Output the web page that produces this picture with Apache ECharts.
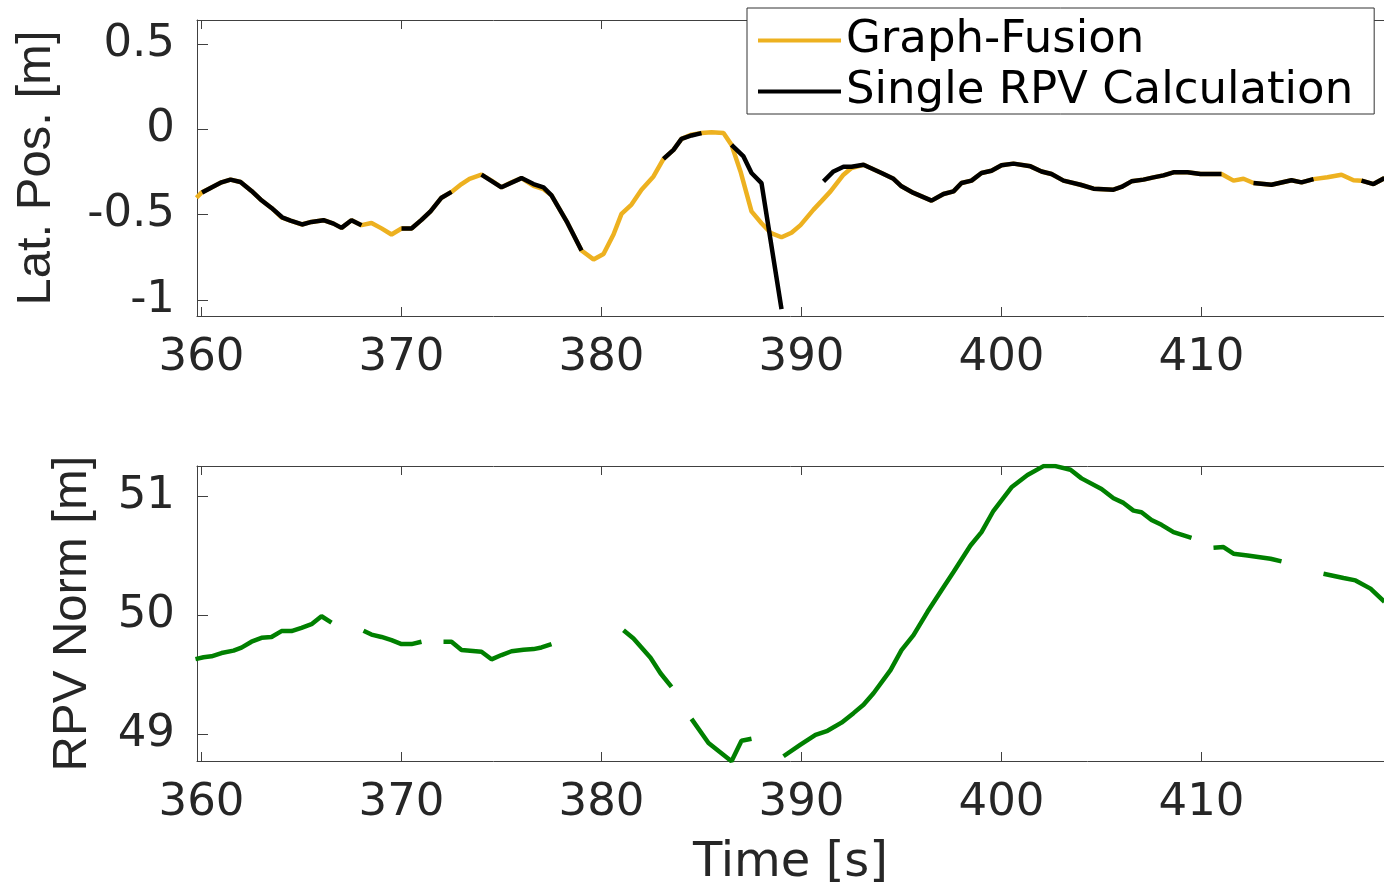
<!DOCTYPE html>
<html>
<head>
<meta charset="utf-8">
<script src="https://cdn.jsdelivr.net/npm/echarts@6/dist/echarts.min.js"></script>
<style>
html,body{margin:0;padding:0;background:#fff;}
#chart{width:1384px;height:889px;}
</style>
</head>
<body>
<div id="chart"></div>
<script>
// ---- Data ----
const xTicks = [360, 370, 380, 390, 400, 410];
const latTicks = [-1, -0.5, 0, 0.5];
const normTicks = [49, 50, 51];

// Graph-Fusion lateral position
const fusionT = [359.75,360.0,360.5,361.0,361.45,361.95,362.5,362.95,363.5,364.0,364.45,365.0,365.5,366.1,366.6,367.0,367.5,368.0,368.5,369.0,369.5,370.0,370.5,371.0,371.45,372.0,372.5,373.0,373.4,374.0,374.5,375.0,375.5,376.0,376.6,377.1,377.5,378.3,379.0,379.6,380.1,380.6,381.0,381.5,382.0,382.6,383.1,383.6,384.0,384.5,385.0,385.5,386.1,386.5,386.95,387.5,388.0,388.45,389.0,389.5,389.95,390.6,391.0,391.45,392.1,392.5,393.1,394.0,394.6,395.0,395.6,396.5,397.1,397.6,398.0,398.5,399.0,399.5,400.0,400.6,401.45,402.0,402.5,403.1,403.95,404.6,405.6,406.0,406.5,407.1,407.6,408.1,408.6,409.3,409.95,411.0,411.6,412.1,412.6,413.5,414.5,415.0,415.6,416.3,417.0,417.6,418.0,418.6,419.15];
const fusionV = [-0.40,-0.37,-0.34,-0.31,-0.294,-0.308,-0.36,-0.41,-0.46,-0.515,-0.534,-0.557,-0.542,-0.532,-0.552,-0.577,-0.532,-0.561,-0.548,-0.58,-0.616,-0.581,-0.581,-0.53,-0.48,-0.40,-0.366,-0.32,-0.289,-0.265,-0.30,-0.339,-0.31,-0.285,-0.33,-0.35,-0.386,-0.548,-0.71,-0.762,-0.73,-0.616,-0.495,-0.44,-0.353,-0.275,-0.172,-0.119,-0.055,-0.03,-0.021,-0.016,-0.021,-0.09,-0.246,-0.48,-0.55,-0.606,-0.632,-0.606,-0.561,-0.47,-0.42,-0.363,-0.265,-0.226,-0.207,-0.255,-0.289,-0.333,-0.372,-0.417,-0.378,-0.363,-0.314,-0.3,-0.255,-0.242,-0.21,-0.2,-0.216,-0.246,-0.261,-0.3,-0.324,-0.347,-0.353,-0.337,-0.304,-0.294,-0.281,-0.269,-0.251,-0.251,-0.261,-0.261,-0.3,-0.289,-0.314,-0.324,-0.298,-0.31,-0.291,-0.28,-0.265,-0.298,-0.3,-0.32,-0.285];

// Single RPV Calculation lateral position (null = no value)
const singleT = [360.03,360.5,361.0,361.45,361.95,362.5,362.95,363.5,364.03,364.45,365.03,365.5,366.1,366.6,367.0,367.5,368.0,369.0,370.0,370.5,371.0,371.45,372.0,372.5,373.2,374.0,375.0,376.0,376.6,377.1,377.5,378.3,379.0,381.0,383.1,383.6,384.0,384.5,385.0,385.8,386.5,387.1,387.5,388.0,389.0,390.0,391.1,391.6,392.1,392.5,393.1,394.0,394.6,395.0,395.6,396.5,397.1,397.6,398.0,398.5,399.0,399.5,400.0,400.6,401.45,402.0,402.5,403.1,403.95,404.6,405.6,406.0,406.5,407.1,407.6,408.1,408.6,409.3,409.95,411.0,411.8,412.6,413.5,414.5,415.0,415.6,416.8,418.0,418.6,419.15];
const singleV = [-0.37,-0.34,-0.31,-0.294,-0.308,-0.36,-0.41,-0.46,-0.515,-0.534,-0.557,-0.542,-0.532,-0.552,-0.577,-0.532,-0.561,null,-0.581,-0.581,-0.53,-0.48,-0.40,-0.366,null,-0.265,-0.339,-0.285,-0.32,-0.339,-0.386,-0.548,-0.71,null,-0.172,-0.119,-0.055,-0.035,-0.021,null,-0.09,-0.158,-0.255,-0.314,-1.054,null,-0.304,-0.246,-0.218,-0.218,-0.207,-0.255,-0.289,-0.333,-0.372,-0.417,-0.378,-0.363,-0.314,-0.3,-0.255,-0.242,-0.21,-0.2,-0.216,-0.246,-0.261,-0.3,-0.324,-0.347,-0.353,-0.337,-0.304,-0.294,-0.281,-0.269,-0.251,-0.251,-0.261,-0.261,null,-0.314,-0.324,-0.298,-0.31,-0.291,null,-0.3,-0.32,-0.285];

// RPV norm (null = no value)
const normT = [359.7,360.1,360.5,361.0,361.6,362.0,362.5,363.0,363.5,364.0,364.5,365.0,365.5,366.0,366.5,367.3,368.1,368.5,369.0,369.5,370.0,370.5,371.0,371.5,372.1,372.5,373.0,374.0,374.5,375.0,375.5,376.1,376.6,377.0,377.5,379.0,381.1,381.6,382.45,382.95,383.5,384.0,384.5,385.35,386.5,387.0,387.5,388.3,389.1,389.95,390.7,391.3,392.0,392.6,393.1,393.6,394.45,395.0,395.6,396.3,397.0,397.6,398.45,399.0,399.6,400.5,401.3,402.1,402.7,403.45,404.0,405.0,405.6,406.1,406.6,407.0,407.5,408.0,408.6,409.5,410.0,410.6,411.1,411.6,412.3,413.45,414.0,415.0,416.1,417.1,417.7,418.45,419.15];
const normV = [49.634,49.649,49.657,49.685,49.705,49.73,49.78,49.813,49.82,49.869,49.869,49.897,49.927,49.994,49.941,null,49.872,49.84,49.82,49.793,49.76,49.76,49.78,null,49.78,49.78,49.71,49.696,49.632,49.668,49.70,49.713,49.718,49.732,49.76,null,49.877,49.807,49.646,49.515,49.40,null,49.132,48.929,48.775,48.948,48.965,null,48.818,48.915,48.998,49.032,49.1,49.18,49.25,49.347,49.542,49.71,49.835,50.031,50.212,50.366,50.588,50.7,50.88,51.077,51.18,51.255,51.255,51.224,51.152,51.063,50.985,50.946,50.881,50.868,50.803,50.762,50.70,50.653,null,50.569,50.575,50.519,50.505,50.477,50.455,null,50.351,50.315,50.295,50.226,50.115];

const pairs = (t, v) => t.map((x, i) => [x, v[i] === null ? null : v[i]]);

// ---- Styling ----
const AX = '#404040';
const TXT = '#262626';
const FONT = 'DejaVu Sans';
const XMIN = 359.775, XMAX = 419.125;

function xAxisDef(gridIndex, position, labels) {
  return {
    type: 'value', gridIndex, position, min: XMIN, max: XMAX,
    axisLine: { show: true, onZero: false, lineStyle: { color: AX, width: 1 } },
    axisTick: { show: true, inside: true, length: 9, customValues: xTicks, lineStyle: { color: AX, width: 1 } },
    axisLabel: { show: labels, customValues: xTicks, fontSize: 45, fontFamily: FONT, color: TXT, margin: 20 },
    splitLine: { show: false }
  };
}

const chart = echarts.init(document.getElementById('chart'), null, { renderer: 'canvas' });
chart.setOption({
  animation: false,
  backgroundColor: '#ffffff',
  textStyle: { fontFamily: FONT },
  grid: [
    { left: 197, top: 20, width: 1187, height: 296 },
    { left: 197, top: 466, width: 1187, height: 297 }
  ],
  xAxis: [
    xAxisDef(0, 'bottom', true),
    xAxisDef(0, 'top', false),
    Object.assign(xAxisDef(1, 'bottom', true), {
      name: 'Time [s]', nameLocation: 'middle', nameGap: 79,
      nameTextStyle: { fontSize: 48, fontFamily: FONT, color: TXT }
    }),
    xAxisDef(1, 'top', false)
  ],
  yAxis: [
    {
      type: 'value', gridIndex: 0, position: 'left', min: -1.094, max: 0.6425,
      name: 'Lat. Pos. [m]', nameLocation: 'middle', nameGap: 136,
      nameTextStyle: { fontSize: 49, fontFamily: 'Liberation Sans', color: TXT },
      axisLine: { show: true, onZero: false, lineStyle: { color: AX, width: 1 } },
      axisTick: { show: true, inside: true, length: 11, customValues: latTicks, lineStyle: { color: AX, width: 1 } },
      axisLabel: { customValues: latTicks, fontSize: 45, fontFamily: FONT, color: TXT, margin: 22 },
      splitLine: { show: false }
    },
    {
      type: 'value', gridIndex: 1, position: 'left', min: 48.778, max: 51.256,
      name: 'RPV Norm [m]', nameLocation: 'middle', nameGap: 100,
      nameTextStyle: { fontSize: 49, fontFamily: 'Liberation Sans', color: TXT },
      axisLine: { show: true, onZero: false, lineStyle: { color: AX, width: 1 } },
      axisTick: { show: true, inside: true, length: 11, customValues: normTicks, lineStyle: { color: AX, width: 1 } },
      axisLabel: { customValues: normTicks, fontSize: 45, fontFamily: FONT, color: TXT, margin: 22 },
      splitLine: { show: false }
    }
  ],
  legend: {
    orient: 'vertical', left: 747, top: 8,
    padding: [10, 21, 0, 11],
    itemWidth: 83, itemHeight: 4, itemGap: 6, icon: 'rect',
    textStyle: { fontSize: 45, lineHeight: 42, fontFamily: FONT, color: '#000' },
    borderColor: '#333', borderWidth: 1, backgroundColor: '#fff',
    data: ['Graph-Fusion', 'Single RPV Calculation']
  },
  series: [
    {
      name: 'Graph-Fusion', type: 'line', xAxisIndex: 0, yAxisIndex: 0,
      data: pairs(fusionT, fusionV), showSymbol: false, symbol: 'none',
      color: '#EDB120', lineStyle: { width: 4.5, color: '#EDB120' }, clip: true
    },
    {
      name: 'Single RPV Calculation', type: 'line', xAxisIndex: 0, yAxisIndex: 0,
      data: pairs(singleT, singleV), showSymbol: false, symbol: 'none', connectNulls: false,
      color: '#000000', lineStyle: { width: 4.5, color: '#000000' }, clip: true
    },
    {
      name: 'RPV Norm', type: 'line', xAxisIndex: 2, yAxisIndex: 1,
      data: pairs(normT, normV), showSymbol: false, symbol: 'none', connectNulls: false,
      color: '#008000', lineStyle: { width: 4.5, color: '#008000' }, clip: true
    }
  ]
});
</script>
</body>
</html>
